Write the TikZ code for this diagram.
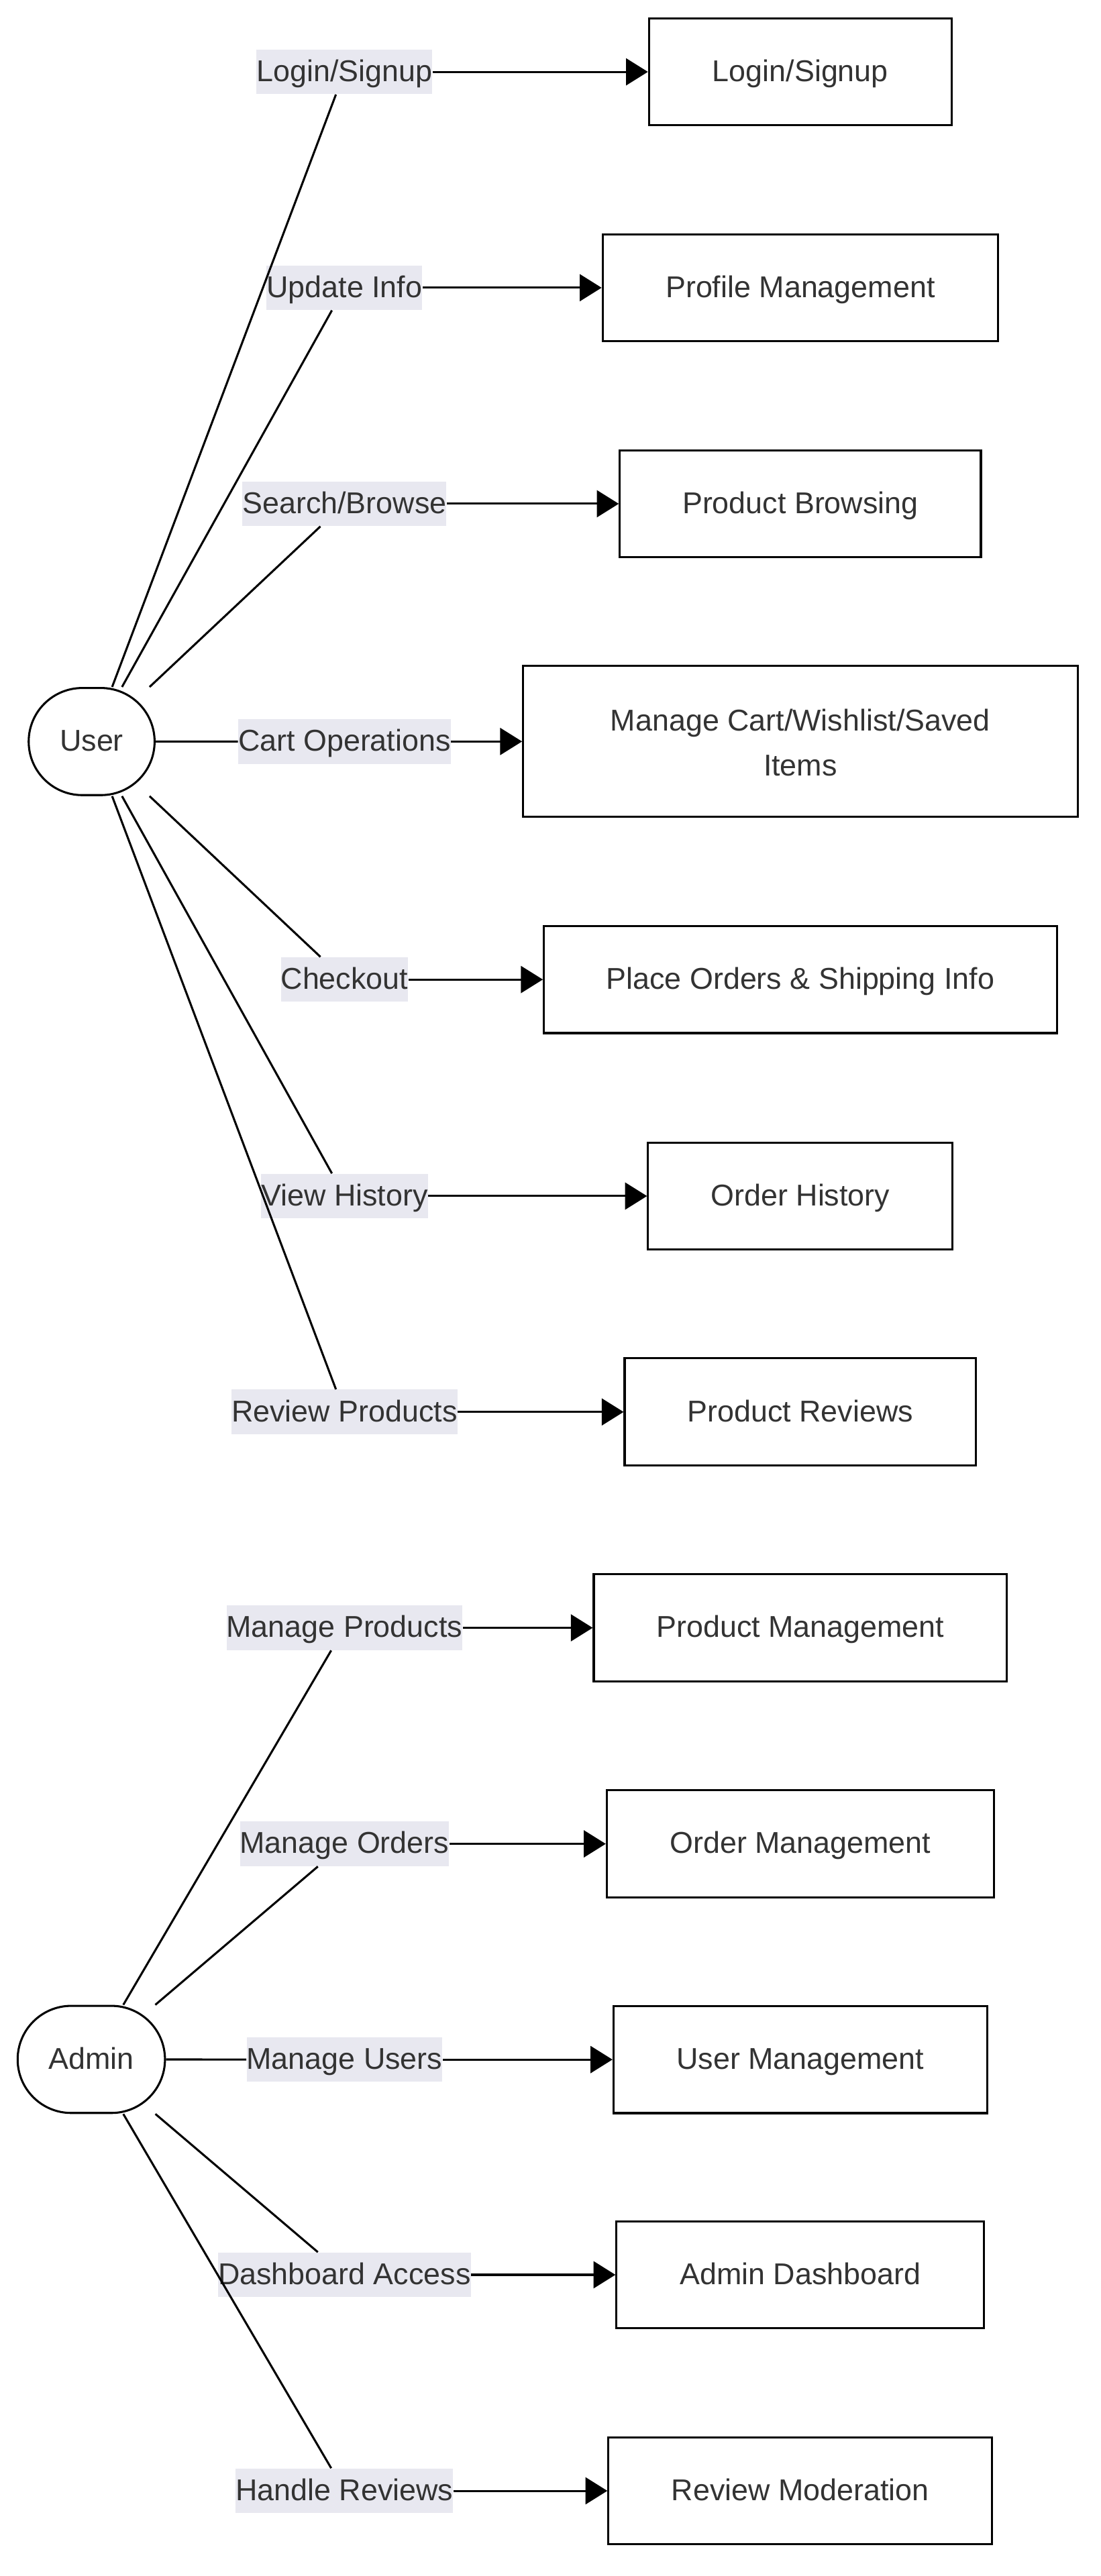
\documentclass[tikz,border=0pt]{standalone}
\usepackage{fontspec}
\setmainfont{Liberation Sans}
\usetikzlibrary{arrows.meta}
\definecolor{txt}{HTML}{333333}
\definecolor{lblbg}{RGB}{232,232,240}
\begin{document}
\begin{tikzpicture}[x=1pt,y=-1pt,
  every node/.style={font=\fontsize{18.26pt}{27.2pt}\selectfont, text=txt},
  box/.style={draw=black, line width=1.25pt, fill=white, rectangle, minimum height=65pt, inner xsep=0pt, inner ysep=0pt, text height=13.1pt, text depth=1.4pt},
  actor/.style={draw=black, line width=1.25pt, fill=white, rectangle, rounded corners=32.5pt, minimum height=65pt, inner sep=0pt, text height=13.1pt, text depth=1.4pt},
  lbl/.style={fill=lblbg, inner xsep=0pt, inner ysep=6.3pt, text height=13.1pt, text depth=1.4pt},
  link/.style={draw=black, line width=1.25pt},
  arr/.style={link, -{Triangle[length=13.3pt,width=16.3pt]}},
  boxtext/.style={anchor=base, inner sep=0pt}
]
\useasboundingbox (0,0) rectangle (668,1563.2);

% actors
\node[actor, minimum width=76.4pt] (user) at (55.6,450) {User};
\node[actor, minimum width=89.4pt] (admin) at (55.4,1249.7) {Admin};

% target boxes
\node[box, minimum width=183.7pt] (b1)  at (485.6,43.6)   {Login/Signup};
\node[box, minimum width=239.9pt] (b2)  at (485.6,174.6)  {Profile Management};
\node[box, minimum width=219.1pt] (b3)  at (485.6,305.7)  {Product Browsing};
\node[box, minimum width=336.4pt, minimum height=91.7pt] (b4) at (485.6,449.95) {};
\node[boxtext] (b4a) at (485.6,443.4) {Manage Cart/Wishlist/Saved};
\node[boxtext] (b4b) at (485.6,470.6) {Items};
\node[box, minimum width=311.2pt] (b5)  at (485.6,594.4)  {Place Orders \& Shipping Info};
\node[box, minimum width=184.8pt] (b6)  at (485.6,725.8)  {Order History};
\node[box, minimum width=213.2pt] (b7)  at (485.6,856.8)  {Product Reviews};
\node[box, minimum width=250.7pt] (b8)  at (485.6,987.8)  {Product Management};
\node[box, minimum width=234.9pt] (b9)  at (485.6,1118.9) {Order Management};
\node[box, minimum width=226.7pt] (b10) at (485.6,1249.8) {User Management};
\node[box, minimum width=223.1pt] (b11) at (485.6,1380.4) {Admin Dashboard};
\node[box, minimum width=232.9pt] (b12) at (485.6,1511.5) {Review Moderation};

% edge labels
\node[lbl] (l1)  at (209,43.6)   {Login/Signup};
\node[lbl] (l2)  at (209,174.6)  {Update Info};
\node[lbl] (l3)  at (209,305.7)  {Search/Browse};
\node[lbl] (l4)  at (209,449.95) {Cart Operations};
\node[lbl] (l5)  at (209,594.4)  {Checkout};
\node[lbl] (l6)  at (209,725.8)  {View History};
\node[lbl] (l7)  at (209,856.8)  {Review Products};
\node[lbl] (l8)  at (209,987.8)  {Manage Products};
\node[lbl] (l9)  at (209,1118.9) {Manage Orders};
\node[lbl] (l10) at (209,1249.8) {Manage Users};
\node[lbl] (l11) at (209,1380.4) {Dashboard Access};
\node[lbl] (l12) at (209,1511.5) {Handle Reviews};

% connectors
\foreach \i in {1,...,7}{
  \draw[link] (user) -- (l\i);
  \draw[arr] (l\i) -- (b\i);
}
\foreach \i in {8,...,12}{
  \draw[link] (admin) -- (l\i);
  \draw[arr] (l\i) -- (b\i);
}
\end{tikzpicture}
\end{document}
